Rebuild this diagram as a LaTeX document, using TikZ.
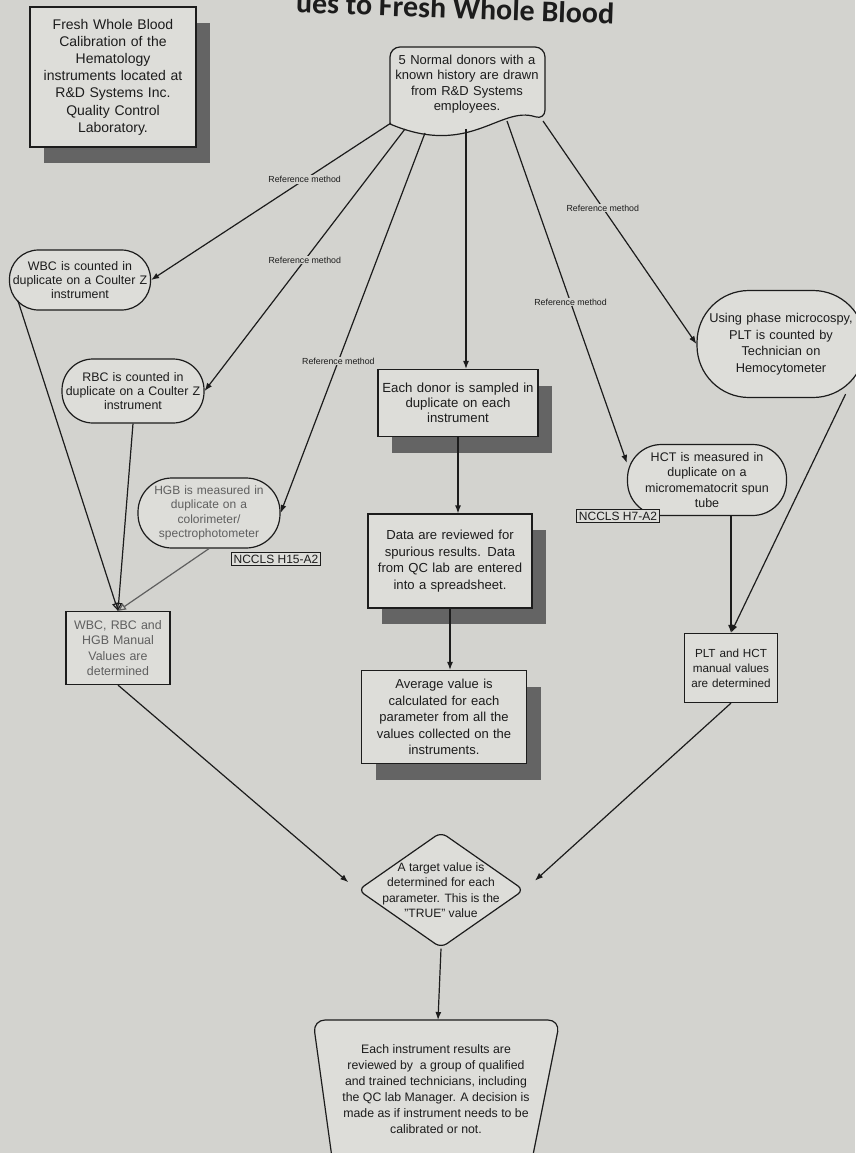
\documentclass[tikz,border=0pt]{standalone}
\usepackage{fontspec}
\setmainfont{Liberation Sans}
\newfontfamily\titlefont{Carlito}
\usetikzlibrary{arrows.meta,shapes.geometric,shadows}

\definecolor{paper}{RGB}{211,211,207}
\definecolor{boxfill}{RGB}{221,221,217}
\definecolor{shade}{RGB}{100,100,100}
\definecolor{ink}{RGB}{28,28,28}
\definecolor{faded}{RGB}{95,95,95}

\newcommand\fs[2]{\fontsize{#1}{#2}\selectfont}

\tikzset{
  box/.style={draw=ink, fill=boxfill, line width=1.2pt, align=center, inner sep=2pt, text=ink},
  shadowbox/.style={box, drop shadow={shadow xshift=14pt, shadow yshift=-16pt, fill=shade, opacity=1}},
  pill/.style={box, rounded corners=#1},
  tag/.style={box, inner sep=2.5pt, font=\fs{12}{14}},
  reflabel/.style={fill=paper, inner sep=1pt, text=ink, font=\fs{8.8}{9}},
  link/.style={draw=ink, line width=1.2pt, -{Latex[length=8pt,width=6pt]}},
}

\begin{document}
\begin{tikzpicture}[x=1pt, y=-1pt]
  \useasboundingbox (0,0) rectangle (855,1153);
  \fill[paper] (0,0) rectangle (855,1153);

  % title, its top runs off the page
  \node[anchor=base east, rotate=-2, inner sep=0pt, text=ink, font=\titlefont\bfseries\fs{30}{32}] (title) at (614,24) {ues to Fresh Whole Blood};

  % boxes
  \node[shadowbox, text width=162pt, minimum height=140pt, font=\fs{14}{17.2}] (lab) at (113,77)
    {Fresh Whole Blood\\Calibration of the\\Hematology\\instruments located at\\R\&D Systems Inc.\\Quality Control\\Laboratory.};

  % donors: document shape with a wavy bottom
  \draw[draw=ink, fill=boxfill, line width=1.2pt, rounded corners=10pt]
    (390,124) -- (390,47) -- (545,47) -- (545,120)
    [sharp corners] .. controls (500,105) and (470,158) .. (390,124) -- cycle;
  \node[align=center, text=ink, text width=150pt, font=\fs{13}{15.5}] (donors) at (467,84)
    {5 Normal donors with a\\known history are drawn\\from R\&D Systems\\employees.};
  \coordinate (d1) at (391,123);
  \coordinate (d2) at (405,129);
  \coordinate (d3) at (425,133);
  \coordinate (d4) at (466,129);
  \coordinate (d5) at (507,121);
  \coordinate (d6) at (543,121);

  \node[pill=29pt, text width=137pt, minimum height=60pt, font=\fs{12.4}{14}] (wbc) at (80,280)
    {WBC is counted in\\duplicate on a Coulter Z\\instrument};
  \node[pill=31pt, text width=138pt, minimum height=64pt, font=\fs{12.4}{14}] (rbc) at (133,391)
    {RBC is counted in\\duplicate on a Coulter Z\\instrument};
  \node[pill=34pt, text width=138pt, minimum height=70pt, text=faded, font=\fs{12}{14.5}] (hgb) at (209,513)
    {HGB is measured in\\duplicate on a\\colorimeter/\\spectrophotometer};
  \node[tag] (h15) at (276,559) {NCCLS H15-A2};
  \node[box, text width=100pt, minimum height=73pt, text=faded, font=\fs{12.4}{15.5}] (wrh) at (118,648)
    {WBC, RBC and\\HGB Manual\\Values are\\determined};

  \node[shadowbox, text width=156pt, minimum height=67pt, font=\fs{13.2}{15}] (each) at (458,403)
    {Each donor is sampled in\\duplicate on each\\instrument};
  \node[shadowbox, text width=160pt, minimum height=94pt, font=\fs{13.1}{16.5}] (data) at (450,561)
    {Data are reviewed for\\spurious results. Data\\from QC lab are entered\\into a spreadsheet.};
  \node[shadowbox, text width=161pt, minimum height=93pt, font=\fs{13}{16.5}] (avg) at (444,717)
    {Average value is\\calculated for each\\parameter from all the\\values collected on the\\instruments.};

  \node[pill=52pt, text width=164pt, minimum height=107pt, font=\fs{12.8}{16.5}] (plt) at (781,344)
    {Using phase microcospy,\\PLT is counted by\\Technician on\\Hemocytometer};
  \node[pill=34pt, text width=155pt, minimum height=71pt, font=\fs{12.5}{15.5}] (hct) at (707,480)
    {HCT is measured in\\duplicate on a\\micromematocrit spun\\tube};
  \node[tag] (h7) at (618,516) {NCCLS H7-A2};
  \node[box, text width=89pt, minimum height=69pt, font=\fs{11.7}{15}] (ph) at (731,668)
    {PLT and HCT\\manual values\\are determined};

  \node[diamond, draw=ink, fill=boxfill, line width=1.2pt, rounded corners=7pt,
        minimum width=166pt, minimum height=116pt, inner sep=0pt] (target) at (441,890) {};
  \node[align=center, text=ink, font=\fs{12.1}{15.5}] (targettext) at (target)
    {A target value is\\determined for each\\parameter. This is the\\"TRUE" value};

  % review shape, cut by the page bottom
  \draw[draw=ink, fill=boxfill, line width=1.2pt, rounded corners=12pt]
    (333,1165) -- (313,1020) -- (560,1020) -- (531,1165);
  \coordinate (review) at (438,1020);
  \node[align=center, text=ink, font=\fs{12.3}{16}] (reviewtext) at (436,1089)
    {Each instrument results are\\reviewed by\ \ a group of qualified\\and trained technicians, including\\the QC lab Manager. A decision is\\made as if instrument needs to be\\calibrated or not.};

  % connectors
  \draw[link] (d1) -- node[reflabel, pos=0.36] {Reference method} (wbc.east);
  \draw[link] (d2) -- node[reflabel, pos=0.5] {Reference method} (rbc.east);
  \draw[link] (d3) -- node[reflabel, pos=0.6] {Reference method} (hgb.east);
  \draw[link] (d4) -- (d4 |- each.north);
  \draw[link] (d5) -- node[reflabel, pos=0.53] {Reference method} (hct.168);
  \draw[link] (d6) -- node[reflabel, pos=0.39] {Reference method} (plt.west);

  \draw[link] (each.south) -- (each.south |- data.north);
  \draw[link] (data.south) -- (data.south |- avg.north);

  \draw[link, -{Triangle[open, length=8pt, width=7pt]}] ([shift={(9pt,10pt)}]wbc.south west) -- (wrh.north);
  \draw[link, -{Triangle[open, length=8pt, width=7pt]}] (rbc.south) -- (wrh.north);
  \draw[link, draw=faded, -{Triangle[open, length=8pt, width=7pt]}] (hgb.south) -- (wrh.north);

  \draw[link] (ph.north |- hct.south) -- (ph.north);
  \draw[link] ([shift={(-20pt,4pt)}]plt.south east) -- (ph.north);

  \draw[link, shorten >=12pt] (wrh.south) -- (target.west);
  \draw[link, shorten >=14pt] (ph.south) -- (target.east);
  \draw[link] (target.south) -- (review);
\end{tikzpicture}
\end{document}
